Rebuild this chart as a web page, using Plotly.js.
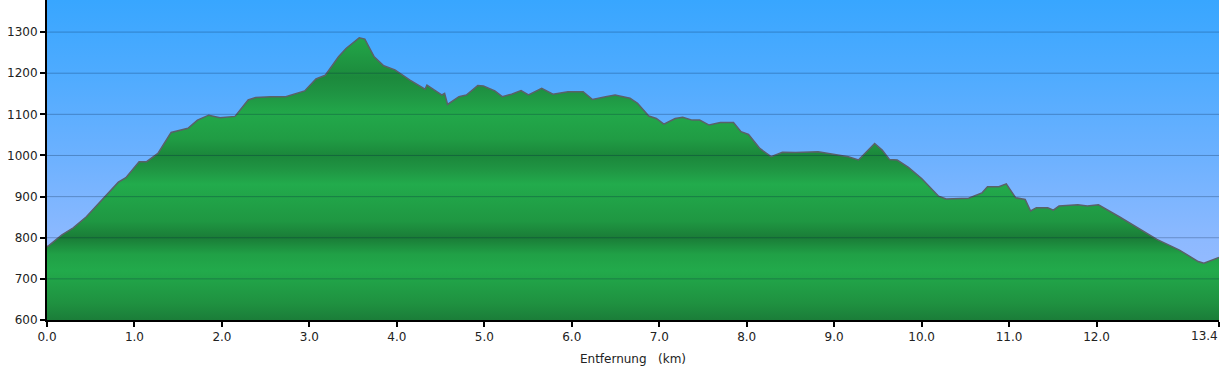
<!DOCTYPE html>
<html>
<head>
<meta charset="utf-8">
<script src="https://cdn.plot.ly/plotly-3.0.1.min.js"></script>
<style>
  html, body { margin: 0; padding: 0; background: #ffffff; }
  #chart { width: 1220px; height: 368px; }
</style>
</head>
<body>
<div id="chart"></div>
<script>
// ---- data ----
const distanceKm = [
  0.0, 0.02, 0.171, 0.300, 0.450, 0.644, 0.816, 0.902, 1.053, 1.139, 1.268, 1.419, 1.612,
  1.720, 1.849, 1.978, 2.150, 2.300, 2.386, 2.559, 2.730, 2.946, 3.075, 3.182, 3.333,
  3.419, 3.570, 3.634, 3.741, 3.850, 3.978, 4.150, 4.322, 4.344, 4.516, 4.546, 4.580,
  4.710, 4.795, 4.925, 4.990, 5.120, 5.205, 5.312, 5.420, 5.505, 5.656, 5.785, 5.957,
  6.130, 6.237, 6.388, 6.495, 6.666, 6.752, 6.880, 6.967, 7.053, 7.182, 7.268, 7.376,
  7.462, 7.570, 7.698, 7.849, 7.935, 8.021, 8.150, 8.279, 8.408, 8.559, 8.817, 9.010,
  9.161, 9.278, 9.463, 9.549, 9.634, 9.721, 9.849, 10.000, 10.194, 10.280, 10.538,
  10.689, 10.753, 10.883, 10.968, 11.076, 11.184, 11.246, 11.312, 11.442, 11.506,
  11.571, 11.786, 11.894, 12.022, 12.260, 12.475, 12.690, 12.948, 13.163, 13.227, 13.400
];
const elevationM = [
  778, 781, 807, 824, 851, 896, 935, 946, 985, 985, 1005, 1056, 1066,
  1086, 1098, 1092, 1095, 1135, 1141, 1143, 1143, 1157, 1186, 1195, 1240,
  1260, 1286, 1283, 1240, 1218, 1208, 1183, 1161, 1171, 1147, 1151, 1124,
  1143, 1147, 1170, 1169, 1157, 1143, 1149, 1158, 1147, 1163, 1149, 1155,
  1155, 1136, 1143, 1147, 1139, 1127, 1096, 1090, 1076, 1090, 1093, 1086,
  1086, 1074, 1080, 1080, 1058, 1051, 1017, 997, 1008, 1007, 1009, 1003,
  997, 989, 1029, 1013, 990, 989, 971, 944, 901, 894, 896,
  909, 924, 924, 931, 897, 893, 865, 873, 873, 867,
  877, 880, 877, 880, 851, 823, 796, 770, 742, 738, 752
];
const xTickVals = [0, 1, 2, 3, 4, 5, 6, 7, 8, 9, 10, 11, 12, 13.4];
const yTickVals = [600, 700, 800, 900, 1000, 1100, 1200, 1300];
const xRange = [0, 13.4];
const yRange = [600, 1378];
const xTitle = "Entfernung\u00a0\u00a0\u00a0(km)";

// ---- styling helpers ----
function scaleFrom(stops) {
  const span = yRange[1] - yRange[0];
  return stops.map(s => [(s[0] - yRange[0]) / span, s[1]]);
}
const greenStops = [
  [600, '#1b7d39'], [640, '#1f9140'], [720, '#22aa4b'], [760, '#20a046'],
  [800, '#1a7c37'], [840, '#1f9742'], [930, '#22ab4c'], [970, '#1f9342'],
  [1000, '#1b873b'], [1040, '#209c44'], [1100, '#22a84a'], [1150, '#1f9443'],
  [1190, '#1c893c'], [1250, '#209c44'], [1300, '#22a84a'], [1378, '#20a046']
];
const skyStops = [
  [600, '#a2bdff'], [800, '#8cb9ff'], [1000, '#6cb1ff'], [1200, '#4eabff'], [1378, '#38a6ff']
];

const sky = {
  x: xRange, y: [yRange[1], yRange[1]],
  type: 'scatter', mode: 'lines', fill: 'tozeroy',
  line: { width: 0, color: 'rgba(0,0,0,0)' },
  fillgradient: { type: 'vertical', start: yRange[0], stop: yRange[1], colorscale: scaleFrom(skyStops) },
  hoverinfo: 'skip', showlegend: false
};
const profile = {
  x: distanceKm, y: elevationM,
  type: 'scatter', mode: 'lines', fill: 'tozeroy',
  line: { width: 1.5, color: '#5a6169' },
  fillgradient: { type: 'vertical', start: yRange[0], stop: yRange[1], colorscale: scaleFrom(greenStops) },
  showlegend: false
};

const gridShapes = yTickVals.filter(v => v > yRange[0]).map(v => ({
  type: 'line', xref: 'paper', x0: 0, x1: 1, yref: 'y', y0: v, y1: v,
  line: { color: 'rgba(0,30,60,0.28)', width: 1 }, layer: 'above'
}));

const font = { family: 'DejaVu Sans, Verdana, sans-serif', size: 12, color: '#222222' };

// the last tick label sits flush against the right edge (right-aligned), as in the reference
const lastTick = xTickVals[xTickVals.length - 1];
const xTickText = xTickVals.map(v => (v === lastTick ? '' : v.toFixed(1)));

const layout = {
  width: 1220, height: 368,
  margin: { l: 47, r: 1, t: 0, b: 48, pad: 0 },
  paper_bgcolor: '#ffffff', plot_bgcolor: '#ffffff',
  font: font,
  showlegend: false,
  xaxis: {
    range: xRange, tickvals: xTickVals, ticktext: xTickText,
    showgrid: false, zeroline: false,
    showline: true, linecolor: '#000000', linewidth: 2,
    ticks: 'outside', ticklen: 5, tickwidth: 2, tickcolor: '#000000',
    tickfont: font,
    title: { text: xTitle, font: font, standoff: 11 }
  },
  yaxis: {
    range: yRange, tickvals: yTickVals, ticktext: yTickVals.map(String),
    showgrid: false, zeroline: false,
    showline: true, linecolor: '#000000', linewidth: 2,
    ticks: 'outside', ticklen: 5, tickwidth: 2, tickcolor: '#000000',
    tickfont: font
  },
  shapes: gridShapes,
  annotations: [{
    x: lastTick, xref: 'x', y: 0, yref: 'paper',
    xanchor: 'right', yanchor: 'top', yshift: -8,
    text: lastTick.toFixed(1), showarrow: false, font: font, borderpad: 0
  }]
};

Plotly.newPlot('chart', [sky, profile], layout, { staticPlot: true, displayModeBar: false });
</script>
</body>
</html>
